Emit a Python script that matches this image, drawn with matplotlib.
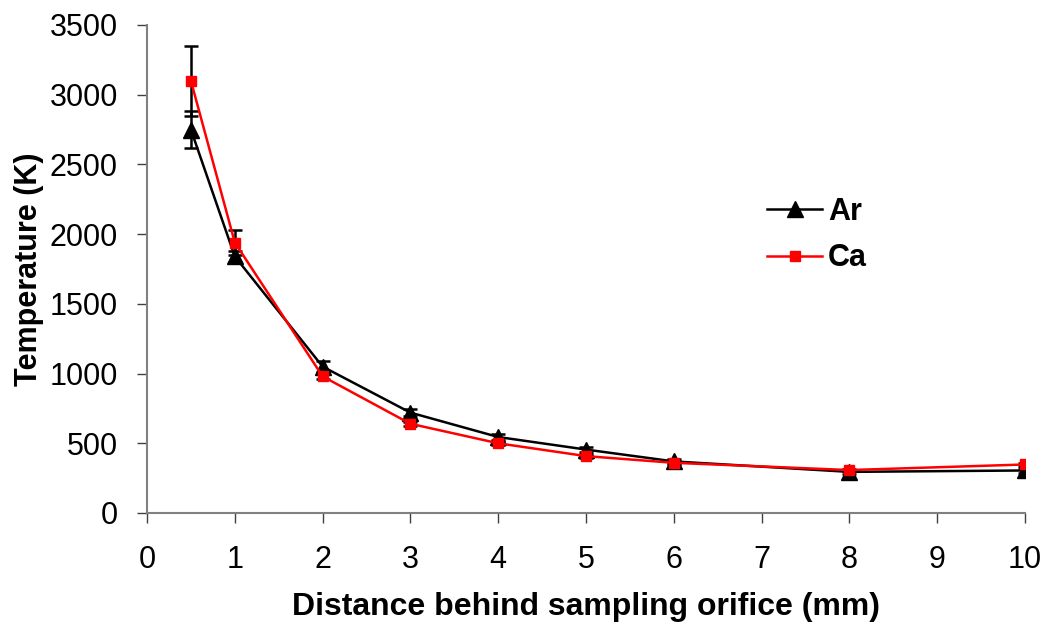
import matplotlib.pyplot as plt
from matplotlib.lines import Line2D

distance = [0.5, 1, 2, 3, 4, 5, 6, 8, 10]
ar_temp = [2750, 1840, 1050, 720, 545, 455, 370, 295, 305]
ar_err = [130, 40, 40, 25, 20, 20, 15, 15, 15]
ca_temp = [3100, 1940, 980, 640, 500, 408, 360, 308, 348]
ca_err = [250, 90, 20, 15, 15, 15, 10, 10, 10]

plt.rcParams['font.family'] = ['Liberation Sans', 'DejaVu Sans']

fig = plt.figure(figsize=(10.47, 6.22), dpi=100)
ax = fig.add_axes([147 / 1047, 1 - 513 / 622, (1025 - 147) / 1047, (513 - 25) / 622])

ax.errorbar(distance, ar_temp, yerr=ar_err, color='black', marker='^', markersize=11,
            linewidth=1.8, capsize=5, capthick=1.8, elinewidth=1.8, zorder=3)
ax.errorbar(distance, ca_temp, yerr=ca_err, color='red', ecolor='black', marker='s',
            markersize=7.5, linewidth=1.8, capsize=5, capthick=1.8, elinewidth=1.8, zorder=4)

ax.set_xlim(0, 10)
ax.set_ylim(0, 3500)
ax.set_xticks(range(0, 11))
ax.set_yticks(range(0, 3501, 500))
ax.tick_params(labelsize=22, direction='out', length=7, color='#404040', width=1)
ax.tick_params(axis='y', pad=14)
ax.tick_params(axis='x', pad=16)
for side in ['top', 'right']:
    ax.spines[side].set_visible(False)
for side in ['left', 'bottom']:
    ax.spines[side].set_color('#808080')
    ax.spines[side].set_linewidth(1.5)

ax.set_xlabel('Distance behind sampling orifice (mm)', fontsize=23, fontweight='bold', labelpad=12)
ax.set_ylabel('Temperature (K)', fontsize=22, fontweight='bold', labelpad=4)

handles = [Line2D([], [], color='black', marker='^', markersize=11, linewidth=1.8),
           Line2D([], [], color='red', marker='s', markersize=7.5, linewidth=1.8)]
ax.legend(handles, ['Ar', 'Ca'], loc='center left', bbox_to_anchor=(767 / 1047, 1 - 235 / 622),
          bbox_transform=fig.transFigure, frameon=False, borderpad=0, borderaxespad=0,
          prop={'size': 22, 'weight': 'bold'}, handlelength=1.8, handletextpad=0.2,
          labelspacing=0.55)

fig.savefig('out.png', dpi=100)
